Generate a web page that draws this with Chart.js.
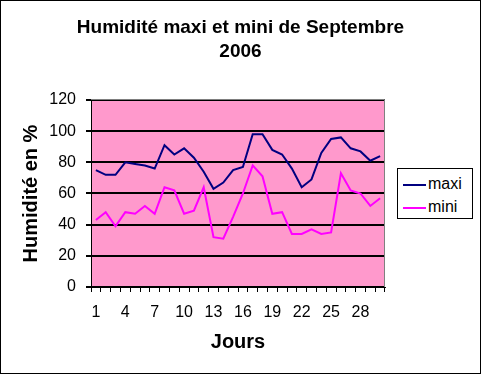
<!DOCTYPE html>
<html>
<head>
<meta charset="utf-8">
<script src="https://cdn.jsdelivr.net/npm/chart.js@4"></script>
<style>
  body { margin: 0; background: #fff; }
  #wrap { position: relative; width: 481px; height: 374px; }
  #legend {
    position: absolute; left: 397px; top: 168px; width: 74px; height: 49px;
    border: 1px solid #000; background: #fff;
    font: 16px "Liberation Sans", Arial, sans-serif; color: #000;
  }
  #legend div { position: absolute; left: 5px; height: 18px; line-height: 18px; }
  #legend span { display: inline-block; width: 23px; height: 2px; vertical-align: middle; margin-right: 2px; }
</style>
</head>
<body>
<div id="wrap">
  <canvas id="mainChart" width="481" height="374"></canvas>
  <div id="legend">
    <div style="top:6px"><span style="background:#000080"></span>maxi</div>
    <div style="top:29px"><span style="background:#ff00ff"></span>mini</div>
  </div>
</div>
<script>
// Data
const days = [];
for (let d = 1; d <= 30; d++) days.push(String(d));
const maxi = [75, 72, 72, 80, 79, 78, 76, 91, 85, 89, 83, 74, 63, 67, 75,
              77, 98, 98, 88, 85, 76, 64, 69, 86, 95, 96, 89, 87, 81, 84];
const mini = [43, 48, 39, 48, 47, 52, 47, 64, 62, 47, 49, 64, 32, 31, 45,
              60, 78, 71, 47, 48, 34, 34, 37, 34, 35, 73, 62, 60, 52, 57];
const yTicks = [0, 20, 40, 60, 80, 100, 120];

const font = '"Liberation Sans", Arial, sans-serif';

// Pink plot area and outer frame
const backgroundPlugin = {
    id: 'background',
    beforeDraw(chart) {
        const { ctx, chartArea: a } = chart;
        ctx.save();
        ctx.fillStyle = '#ff99cc';
        ctx.fillRect(a.left, a.top, a.right - a.left, a.bottom - a.top);
        ctx.restore();
    },
    afterDraw(chart) {
        const { ctx, chartArea: a } = chart;
        ctx.save();
        ctx.strokeStyle = '#808080';
        ctx.lineWidth = 1;
        ctx.beginPath();
        ctx.moveTo(a.left, a.top - 0.5);
        ctx.lineTo(a.right - 0.5, a.top - 0.5);
        ctx.lineTo(a.right - 0.5, a.bottom);
        ctx.stroke();
        ctx.strokeStyle = '#000';
        ctx.strokeRect(0.5, 0.5, chart.width - 1, chart.height - 1);
        ctx.restore();
    }
};

const mainChart = new Chart(document.getElementById('mainChart').getContext('2d'), {
    type: 'line',
    data: {
        labels: days,
        datasets: [{
            label: 'maxi',
            data: maxi,
            borderColor: '#000080',
            borderWidth: 2,
            pointRadius: 0,
            tension: 0
        }, {
            label: 'mini',
            data: mini,
            borderColor: '#ff00ff',
            borderWidth: 2,
            pointRadius: 0,
            tension: 0
        }]
    },
    options: {
        responsive: false,
        animation: false,
        layout: { padding: 0 },
        plugins: {
            legend: { display: false },
            tooltip: { enabled: false },
            title: {
                display: true,
                text: ['Humidité maxi et mini de Septembre', '2006'],
                color: '#000',
                font: { family: font, size: 19, weight: 'bold', lineHeight: 1.263 },
                padding: { top: 16, bottom: 36 }
            }
        },
        scales: {
            x: {
                offset: true,
                grid: {
                    offset: true,
                    drawOnChartArea: false,
                    drawTicks: true,
                    tickLength: 5,
                    color: '#000'
                },
                border: { color: '#000', width: 1 },
                ticks: {
                    autoSkip: false,
                    maxRotation: 0,
                    color: '#000',
                    padding: 11,
                    font: { family: font, size: 16 },
                    callback: (v, i) => (i % 3 === 0 ? days[i] : '')
                },
                title: {
                    display: true,
                    text: 'Jours',
                    color: '#000',
                    font: { family: font, size: 20, weight: 'bold' },
                    padding: { top: 0, bottom: 20 }
                },
                afterFit: (scale) => { scale.height = 87; }
            },
            y: {
                min: 0,
                max: 120,
                afterBuildTicks: (scale) => { scale.ticks = yTicks.map(v => ({ value: v })); },
                grid: {
                    color: '#000',
                    lineWidth: 2,
                    drawTicks: true,
                    tickLength: 5,
                    tickColor: '#000'
                },
                border: { color: '#000', width: 1 },
                ticks: {
                    color: '#000',
                    padding: 10,
                    font: { family: font, size: 16 }
                },
                title: {
                    display: true,
                    text: 'Humidité en %',
                    color: '#000',
                    font: { family: font, size: 20, weight: 'bold' },
                    padding: { top: 19, bottom: 0 }
                },
                afterFit: (scale) => { scale.width = 91; }
            },
            // empty axis that only reserves the space on the right for the legend
            yRight: {
                position: 'right',
                display: true,
                grid: { display: false },
                border: { display: false },
                ticks: { display: false },
                afterFit: (scale) => { scale.width = 96; }
            }
        }
    },
    plugins: [backgroundPlugin]
});
</script>
</body>
</html>
